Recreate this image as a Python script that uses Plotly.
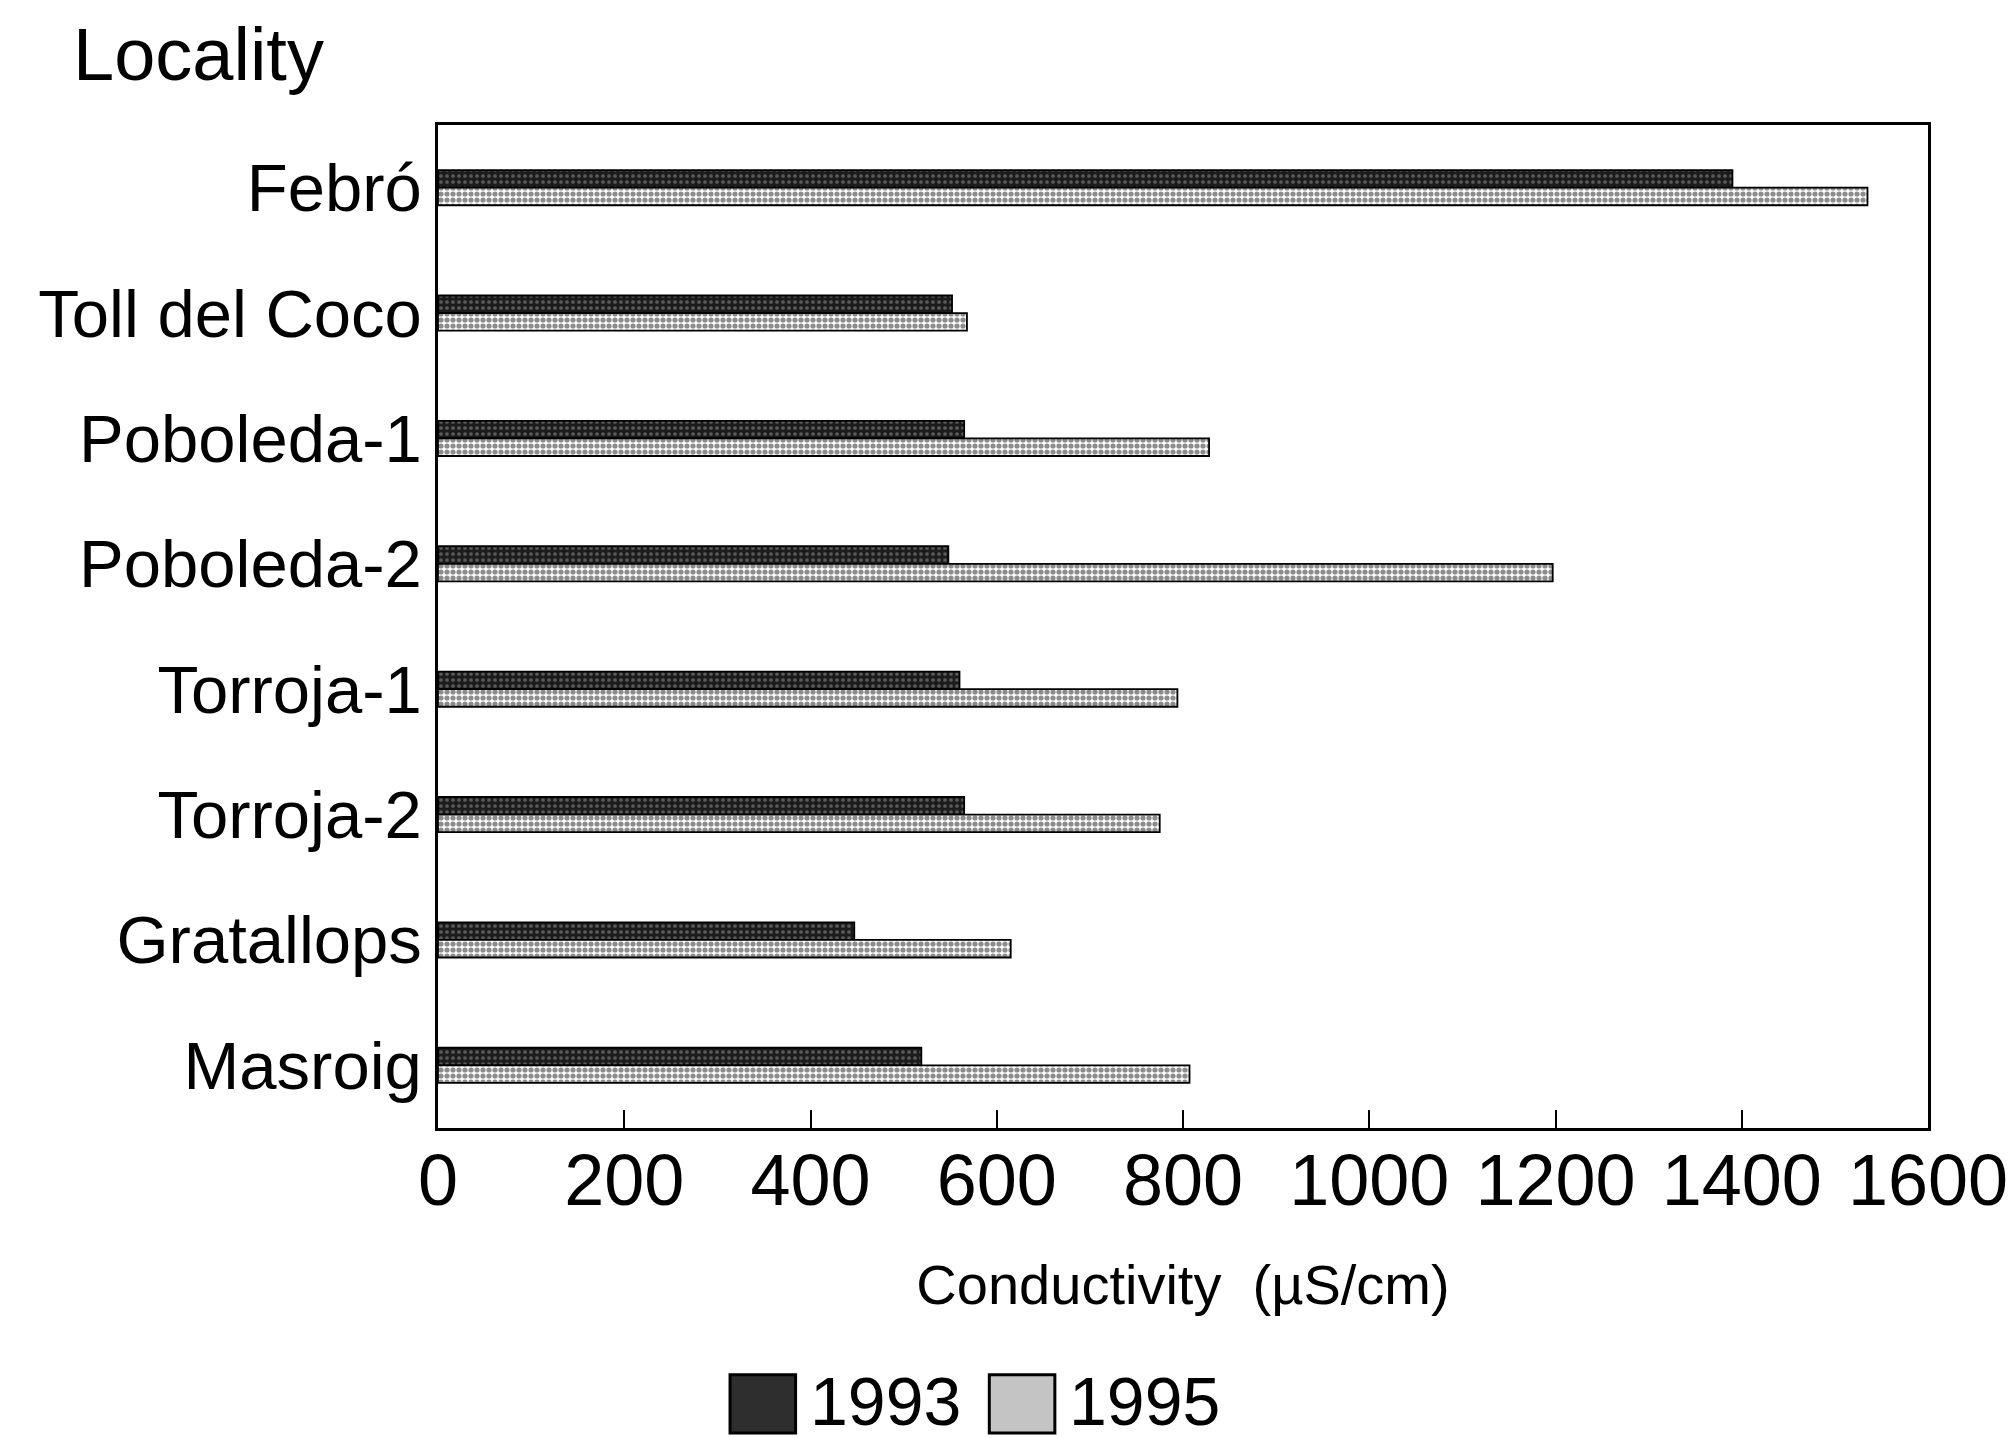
import plotly.graph_objects as go

localities = ["Febró", "Toll del Coco", "Poboleda-1", "Poboleda-2",
              "Torroja-1", "Torroja-2", "Gratallops", "Masroig"]
cond_1993 = [1390, 552, 565, 548, 560, 565, 447, 519]
cond_1995 = [1535, 568, 828, 1197, 794, 775, 615, 807]
years = ["1993", "1995"]
x_ticks = [0, 200, 400, 600, 800, 1000, 1200, 1400, 1600]

FONT = "Liberation Sans, Arial, sans-serif"

fig = go.Figure()
fig.add_trace(go.Bar(
    y=localities, x=cond_1993, name=years[0], orientation="h", showlegend=False,
    marker=dict(color="#1c1c1c", line=dict(color="black", width=1.8),
                pattern=dict(shape=".", fgcolor="#9a9a9a", size=6, solidity=0.3)),
))
fig.add_trace(go.Bar(
    y=localities, x=cond_1995, name=years[1], orientation="h", showlegend=False,
    marker=dict(color="white", line=dict(color="black", width=1.8),
                pattern=dict(shape=".", fgcolor="#1a1a1a", size=6, solidity=0.6)),
))

fig.update_layout(
    width=2015, height=1438,
    margin=dict(l=438, r=87, t=125, b=310, autoexpand=False),
    paper_bgcolor="white", plot_bgcolor="white",
    barmode="group", bargap=0.72, bargroupgap=0,
    font=dict(family=FONT, color="black", size=60),
    showlegend=False,
)
fig.update_xaxes(
    range=[0, 1600], tickvals=x_ticks, ticktext=[str(v) for v in x_ticks],
    ticks="inside", ticklen=18, tickwidth=2, tickcolor="black",
    showline=True, linecolor="black", linewidth=2.5, mirror=True,
    showgrid=False, zeroline=False, automargin=False,
    tickfont=dict(size=72), ticklabelstandoff=-12,
    title=dict(text="Conductivity  (µS/cm)", font=dict(size=56), standoff=46),
)
fig.update_yaxes(
    categoryorder="array", categoryarray=localities,
    autorange="reversed", automargin=False,
    ticks="", showline=True, linecolor="black", linewidth=2.5, mirror=True,
    showgrid=False, zeroline=False,
    tickfont=dict(size=67), ticklabelstandoff=0,
)
fig.add_annotation(text="Locality", xref="paper", yref="paper",
                   x=-0.246, y=1.07, xanchor="left", yanchor="middle",
                   showarrow=False, font=dict(size=74))

# key: large swatches like the original, with year labels
swatch_fill = ["#2e2e2e", "#c4c4c4"]
swatch_x0 = [0.196, 0.370]
label_x = [0.248, 0.422]
for yr, fc, sx, lx in zip(years, swatch_fill, swatch_x0, label_x):
    fig.add_shape(type="rect", xref="paper", yref="paper",
                  x0=sx, x1=sx + 0.044, y0=-0.304, y1=-0.246,
                  fillcolor=fc, line=dict(color="black", width=3))
    fig.add_annotation(text=yr, xref="paper", yref="paper",
                       x=lx, y=-0.272, xanchor="left", yanchor="middle",
                       showarrow=False, font=dict(size=68))

fig.write_html("out.html")
